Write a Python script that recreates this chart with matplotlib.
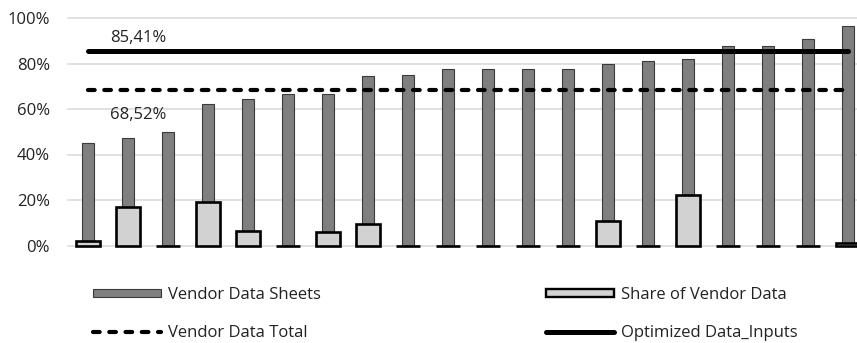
import matplotlib
matplotlib.use("Agg")
import matplotlib.pyplot as plt
from matplotlib import font_manager
from matplotlib.patches import Patch
from matplotlib.lines import Line2D
import numpy as np

# ---- data ----
vendor_data_sheets = [45.2, 47.2, 49.9, 62.4, 64.5, 66.4, 66.7, 74.3, 74.8, 77.6,
                      77.6, 77.6, 77.6, 79.9, 81.3, 82.0, 87.5, 87.5, 90.8, 96.3]
share_of_vendor_data = [2.0, 16.8, 0.0, 19.1, 6.4, 0.0, 5.8, 9.6, 0.0, 0.0,
                        0.0, 0.0, 0.0, 10.6, 0.0, 22.1, 0.0, 0.0, 0.0, 1.3]
vendor_data_total = 68.52
optimized_data_inputs = 85.41
y_ticks = [0, 20, 40, 60, 80, 100]
legend_labels = ["Vendor Data Sheets", "Share of Vendor Data",
                 "Vendor Data Total", "Optimized Data_Inputs"]

available = {f.name for f in font_manager.fontManager.ttflist}
main_font = "Open Sans" if "Open Sans" in available else "DejaVu Sans"
legend_font = "Liberation Sans Narrow" if "Liberation Sans Narrow" in available else main_font
legend_size = 14.5 if legend_font == "Liberation Sans Narrow" else 12

plt.rcParams["font.family"] = [main_font, "DejaVu Sans"]

W, H = 857, 343
fig = plt.figure(figsize=(W / 100, H / 100), dpi=100)
ax = fig.add_axes([68 / W, 97.5 / H, 800 / W, 227.5 / H])

n = len(vendor_data_sheets)
x = np.arange(n)
dark = np.array(vendor_data_sheets) / 100
light = np.array(share_of_vendor_data) / 100

ax.bar(x, dark, width=0.29, color="#7f7f7f", edgecolor="#3a3a3a", linewidth=0.8,
       zorder=2, clip_on=False)
ax.bar(x, light, width=0.61, color="#d2d2d2", edgecolor="#000000", linewidth=1.9,
       zorder=3, clip_on=False)

ax.plot([x[0], x[-1]], [vendor_data_total / 100] * 2, color="black", lw=3.0,
        dashes=(1.6, 2.3), dash_capstyle="round", solid_capstyle="round", zorder=4)
ax.plot([x[0], x[-1]], [optimized_data_inputs / 100] * 2, color="black", lw=3.6,
        solid_capstyle="round", zorder=4)

def fmt(v):
    return f"{v:.2f}%".replace(".", ",")

ax.annotate(fmt(optimized_data_inputs), xy=(0.55, optimized_data_inputs / 100),
            xytext=(0, 13), textcoords="offset pixels", ha="left", va="center",
            fontsize=12, color="#222222")
ax.annotate(fmt(vendor_data_total), xy=(0.55, vendor_data_total / 100),
            xytext=(0, -25.5), textcoords="offset pixels", ha="left", va="center",
            fontsize=12, color="#222222")

ax.set_xlim(-0.5, n - 0.5)
ax.set_ylim(0, 1)
ax.set_yticks([t / 100 for t in y_ticks])
ax.set_yticklabels([f"{t}%" for t in y_ticks], fontsize=12, color="#222222")
ax.set_xticks([])
ax.tick_params(axis="y", length=0, pad=13)
for s in ax.spines.values():
    s.set_visible(False)
ax.grid(axis="y", color="#d9d9d9", linewidth=1.1, zorder=0)
ax.set_axisbelow(True)
for gl in ax.get_ygridlines():
    gl.set_clip_on(False)

h_dark = Patch(facecolor="#7f7f7f", edgecolor="#3a3a3a", linewidth=0.8)
h_light = Patch(facecolor="#d2d2d2", edgecolor="#000000", linewidth=1.7)
h_dash = Line2D([], [], color="black", lw=3.0, dashes=(1.6, 2.3), dash_capstyle="round")
h_solid = Line2D([], [], color="black", lw=3.6, solid_capstyle="round")

fs_px = legend_size * 100 / 72
common = dict(frameon=False, borderpad=0, borderaxespad=0, loc="center left",
              handlelength=68 / fs_px, handletextpad=7 / fs_px, handleheight=0.4,
              labelspacing=(42 - 1.2 * fs_px) / fs_px,
              prop={"family": [legend_font, "DejaVu Sans"], "size": legend_size})
leg1 = fig.legend([h_dark, h_dash], [legend_labels[0], legend_labels[2]],
                  bbox_to_anchor=(92.7 / W, (H - 314) / H), **common)
leg2 = fig.legend([h_light, h_solid], [legend_labels[1], legend_labels[3]],
                  bbox_to_anchor=(546 / W, (H - 314) / H), **common)
for leg in (leg1, leg2):
    for t in leg.get_texts():
        t.set_color("#222222")

fig.savefig("out.png", dpi=100)
